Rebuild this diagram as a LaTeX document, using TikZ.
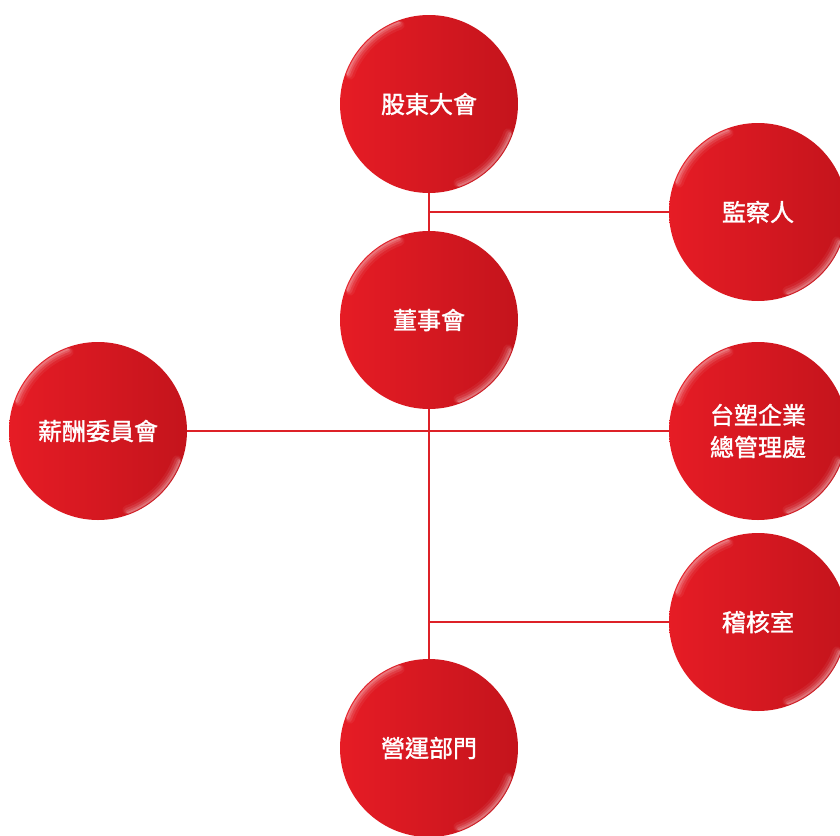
\documentclass[tikz,border=0pt]{standalone}
\usepackage{fontspec}
\newfontfamily\cjk{Noto Sans CJK TC}[FakeBold=1.4]
\usetikzlibrary{backgrounds}
\definecolor{ballL}{HTML}{E61C25}
\definecolor{ballR}{HTML}{C4141C}
\definecolor{wire}{HTML}{DD2128}

\tikzset{
  ball/.style={circle, minimum size=178pt, inner sep=0pt, text=white,
    font=\cjk\fontsize{24}{32}\selectfont, align=center,
    left color=ballL, right color=ballR,
    path picture={
      \foreach \o/\w/\r in {0.06/9/84, 0.10/6/85, 0.14/3.5/86, 0.18/1.8/87}{
        \draw[white, opacity=\o, line width=\w pt, line cap=round]
          (path picture bounding box.center) ++(110:\r) arc (110:160:\r);
        \draw[white, opacity=\o, line width=\w pt, line cap=round]
          (path picture bounding box.center) ++(-20:\r) arc (-20:-70:\r);
      }
    }},
  wire/.style={draw=wire, line width=2pt}
}

\begin{document}
\begin{tikzpicture}[x=1pt, y=1pt]
\useasboundingbox (0,0) rectangle (840,-835);
\clip (0,0) rectangle (840,-835);

\node[ball] (gm)  at (429,-104) {股東大會};
\node[ball] (sup) at (758,-212) {監察人};
\node[ball] (bd)  at (429,-320) {董事會};
\node[ball] (pay) at (98,-431)  {薪酬委員會};
\node[ball] (hq)  at (758,-431) {台塑企業\\總管理處};
\node[ball] (aud) at (758,-622) {稽核室};
\node[ball] (ops) at (429,-748) {營運部門};

\begin{scope}[on background layer]
\draw[wire] (gm.south) -- (ops.north);
\draw[wire] (pay.east) -- (hq.west);
\foreach \n in {sup, aud}
    \draw[wire] (gm.south |- \n.west) -- (\n.west);
\end{scope}
%
\end{tikzpicture}
\end{document}
